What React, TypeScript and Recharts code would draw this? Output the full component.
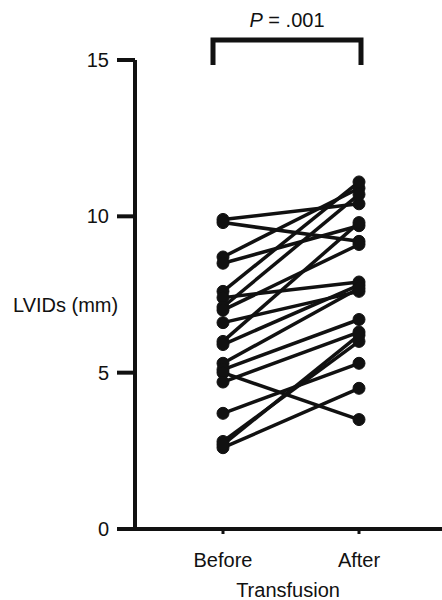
import { LineChart, Line, XAxis, YAxis, Customized } from 'recharts'

// LVIDs (mm) per patient, before and after transfusion
const before = [9.9, 9.8, 8.7, 8.5, 7.6, 7.4, 7.1, 7.0, 6.6, 6.0, 5.9, 5.3, 5.1, 5.0, 4.7, 3.7, 2.8, 2.6, 2.7]
const after = [10.4, 9.2, 10.9, 9.7, 11.1, 7.9, 10.7, 9.1, 7.6, 9.8, 7.8, 7.7, 6.7, 3.5, 6.3, 5.3, 6.0, 4.5, 6.2]
const phases = ['Before', 'After']
const yTicks = [0, 5, 10, 15]

const data = phases.map((phase, i) => {
  const row: Record<string, string | number> = { phase }
  before.forEach((b, k) => {
    row['p' + k] = i === 0 ? b : after[k]
  })
  return row
})

const font = '"Liberation Sans", Arial, sans-serif'
const ink = '#111'

function Annotations() {
  return (
    <g fontFamily={font} fill={ink}>
      <path d="M213 65 L213 40 L361 40 L361 65" fill="none" stroke={ink} strokeWidth={5} />
      <text x={287} y={27} textAnchor="middle" fontSize={20}>
        <tspan fontStyle="italic">P</tspan> = .001
      </text>
      <text x={13} y={312} fontSize={20}>LVIDs (mm)</text>
      <text x={288} y={597} textAnchor="middle" fontSize={20}>Transfusion</text>
    </g>
  )
}

export default function App() {
  return (
    <div style={{ position: 'absolute', left: 0, top: 0 }}>
      <LineChart width={442} height={600} data={data} margin={{ top: 60, right: 0, bottom: 0, left: 0 }}>
        <XAxis
          dataKey="phase"
          padding={{ left: 88, right: 83 }}
          height={71}
          tickSize={5}
          tickMargin={19}
          tick={{ fill: ink, fontSize: 20, fontFamily: font }}
          axisLine={{ stroke: ink, strokeWidth: 4 }}
          tickLine={{ stroke: ink, strokeWidth: 3 }}
        />
        <YAxis
          domain={[0, 15]}
          ticks={yTicks}
          width={135}
          tickSize={18}
          tickMargin={8}
          tick={{ fill: ink, fontSize: 20, fontFamily: font }}
          axisLine={{ stroke: ink, strokeWidth: 4 }}
          tickLine={{ stroke: ink, strokeWidth: 4 }}
        />
        {before.map((_, k) => (
          <Line
            key={k}
            dataKey={'p' + k}
            stroke={ink}
            strokeWidth={3.5}
            dot={{ r: 6, fill: ink, stroke: ink, strokeWidth: 1 }}
            activeDot={false}
            isAnimationActive={false}
          />
        ))}
        <Customized component={Annotations} />
      </LineChart>
    </div>
  )
}
